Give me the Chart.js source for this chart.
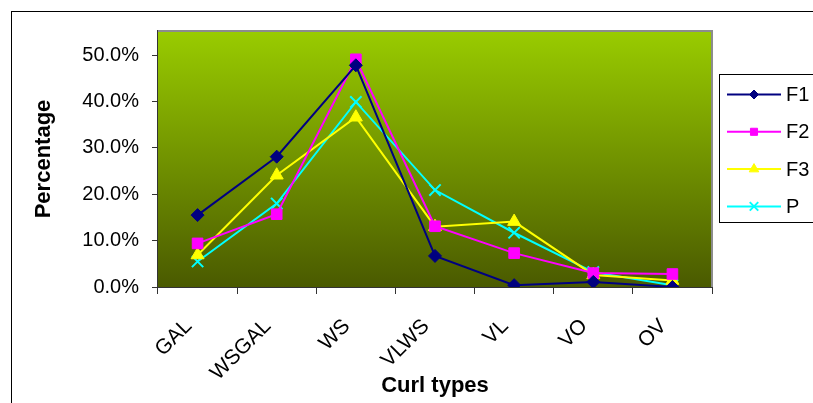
<!DOCTYPE html>
<html lang="en">
<head>
  <meta charset="UTF-8" />
  <title>Curl types</title>
  <script src="https://cdn.jsdelivr.net/npm/chart.js"></script>
  <style>
    html, body { margin: 0; padding: 0; background: #fff; }
    #wrap { width: 813px; height: 403px; position: relative; }
  </style>
</head>
<body>
  <div id="wrap"><canvas id="curlChart"></canvas></div>
  <script>
    // ---------------------------------------------------------------
    // Data (fractions of 1)
    // ---------------------------------------------------------------
    const curlTypes = ['GAL', 'WSGAL', 'WS', 'VLWS', 'VL', 'VO', 'OV'];
    const seriesNames = ['F1', 'F2', 'F3', 'P'];
    const f1Values = [0.155, 0.281, 0.478, 0.067, 0.004, 0.011, 0.000];
    const f2Values = [0.094, 0.157, 0.491, 0.131, 0.073, 0.030, 0.028];
    const f3Values = [0.069, 0.241, 0.366, 0.130, 0.141, 0.026, 0.014];
    const pValues  = [0.055, 0.180, 0.399, 0.209, 0.117, 0.032, 0.004];
    const yTicks   = [0, 0.1, 0.2, 0.3, 0.4, 0.5];

    const FONT = "'Liberation Sans', Arial, sans-serif";

    function makeSeries(label, data, color, pointStyle, radius, legendRadius) {
      return {
        label: label,
        data: data,
        borderColor: color,
        backgroundColor: color,
        borderWidth: 2,
        pointStyle: pointStyle,
        pointRadius: radius,
        pointHoverRadius: radius,
        pointBorderColor: color,
        pointBackgroundColor: color,
        pointBorderWidth: pointStyle === 'crossRot' ? 2 : 1,
        legendRadius: legendRadius,
        tension: 0
      };
    }

    // Gradient plot area, borders and Excel-style legend
    const excelLook = {
      id: 'excelLook',
      beforeDatasetsDraw(chart) {
        const { ctx, chartArea: a } = chart;
        ctx.save();
        const g = ctx.createLinearGradient(0, a.top, 0, a.bottom);
        g.addColorStop(0, '#99cc00');
        g.addColorStop(1, '#4a5a00');
        ctx.fillStyle = g;
        ctx.fillRect(a.left, a.top, a.right - a.left, a.bottom - a.top);
        ctx.strokeStyle = '#8c8c8c';
        ctx.lineWidth = 2;
        ctx.beginPath();
        ctx.moveTo(a.left, a.top);
        ctx.lineTo(a.right, a.top);
        ctx.lineTo(a.right, a.bottom);
        ctx.stroke();
        ctx.restore();
      },
      afterDraw(chart) {
        const { ctx } = chart;
        ctx.save();
        // outer chart border
        ctx.strokeStyle = '#000';
        ctx.lineWidth = 1;
        ctx.strokeRect(11.5, 11.5, 900, 500);
        // legend box
        const lx = 719.5, ly = 74.5, rowH = 37.3;
        ctx.strokeRect(lx, ly, 120, 148);
        chart.data.datasets.forEach((ds, i) => {
          const y = ly + 20 + i * rowH;
          ctx.strokeStyle = ds.borderColor;
          ctx.fillStyle = ds.borderColor;
          ctx.lineWidth = 2;
          ctx.beginPath();
          ctx.moveTo(727, y);
          ctx.lineTo(781, y);
          ctx.stroke();
          ctx.lineWidth = ds.pointBorderWidth;
          Chart.helpers.drawPoint(ctx, {
            pointStyle: ds.pointStyle,
            radius: ds.legendRadius,
            borderWidth: ds.pointBorderWidth,
            rotation: 0
          }, 754, y);
          ctx.fillStyle = '#000';
          ctx.font = '20px ' + FONT;
          ctx.textBaseline = 'middle';
          ctx.fillText(ds.label, 786, y + 1);
        });
        ctx.restore();
      }
    };

    new Chart(document.getElementById('curlChart'), {
      type: 'line',
      data: {
        labels: curlTypes,
        datasets: [
          makeSeries(seriesNames[0], f1Values, '#000080', 'rectRot', 6.5, 4.5),
          makeSeries(seriesNames[1], f2Values, '#ff00ff', 'rect', 7.5, 5),
          makeSeries(seriesNames[2], f3Values, '#ffff00', 'triangle', 7.5, 5.5),
          makeSeries(seriesNames[3], pValues, '#00ffff', 'crossRot', 8, 6)
        ]
      },
      options: {
        responsive: true,
        maintainAspectRatio: false,
        animation: false,
        layout: { padding: { left: 12, top: 31, right: 101, bottom: 0 } },
        plugins: {
          legend: { display: false },
          tooltip: { enabled: false }
        },
        scales: {
          x: {
            offset: true,
            grid: {
              offset: true,
              drawOnChartArea: false,
              drawTicks: true,
              tickLength: 7,
              color: '#333',
              lineWidth: 1
            },
            border: { color: '#333', width: 2 },
            ticks: {
              color: '#000',
              font: { family: FONT, size: 21 },
              minRotation: 45,
              maxRotation: 45,
              padding: 20,
              labelOffset: -9
            },
            title: {
              display: true,
              text: 'Curl types',
              color: '#000',
              font: { family: FONT, size: 22, weight: 'bold' },
              padding: { top: 0, bottom: 4 }
            },
            afterFit(scale) { scale.height = 116; }
          },
          y: {
            min: 0,
            max: 0.552,
            afterBuildTicks(scale) {
              scale.ticks = yTicks.map(v => ({ value: v }));
            },
            grid: {
              drawOnChartArea: false,
              drawTicks: true,
              tickLength: 6,
              color: '#333'
            },
            border: { color: '#333', width: 2 },
            ticks: {
              color: '#000',
              font: { family: FONT, size: 20 },
              padding: 13,
              callback: v => (v * 100).toFixed(1) + '%'
            },
            title: {
              display: true,
              text: 'Percentage',
              color: '#000',
              font: { family: FONT, size: 22, weight: 'bold' },
              padding: { top: 19, bottom: 0 }
            },
            afterFit(scale) { scale.width = 146; }
          }
        }
      },
      plugins: [excelLook]
    });
  </script>
</body>
</html>
